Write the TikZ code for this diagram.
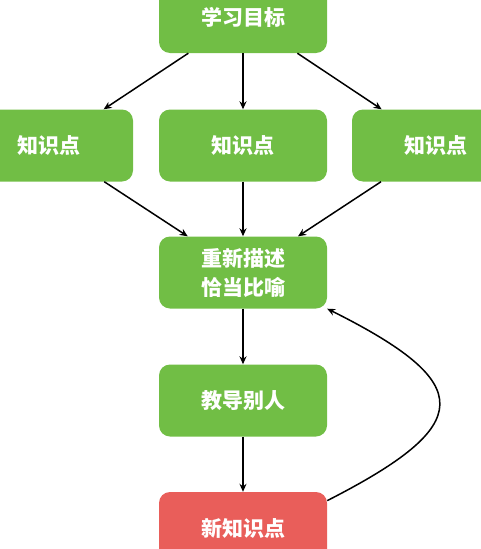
\documentclass[tikz,border=0pt]{standalone}
\usepackage{fontspec}
\setmainfont{Noto Sans CJK SC}
\usetikzlibrary{arrows.meta}
\definecolor{boxgreen}{RGB}{113,190,69}
\definecolor{boxred}{RGB}{233,94,90}
\tikzset{
  stepbox/.style={fill=boxgreen, rounded corners=11pt, minimum width=168pt, minimum height=72pt,
    text=white, font=\fontsize{21}{29}\selectfont\bfseries, align=center, inner sep=0pt},
  flow/.style={-{Stealth[length=8pt,width=7pt]}, line width=1.5pt, black}
}
\begin{document}
\begin{tikzpicture}[x=1pt,y=-1pt]
      \useasboundingbox (0,0) rectangle (481,549);
      \clip (0,0) rectangle (481,549);
      \node[stepbox] (goal) at (243,17) {学习目标};
      \node[stepbox] (kleft) at (49,145.5) {知识点};
      \node[stepbox] (kmid) at (243,145.5) {知识点};
      \node[stepbox] (kright) at (436,145.5) {知识点};
      \node[stepbox] (reword) at (243,272.5) {重新描述\\恰当比喻};
      \node[stepbox] (teach) at (243,400.5) {教导别人};
      \node[stepbox, fill=boxred] (newk) at (243,528) {新知识点};
      \draw [flow] (goal) -- (kleft); % goal--k1
      \draw [flow] (goal) -- (kmid); % goal--k2
      \draw [flow] (goal) -- (kright); % goal--k3
      \draw [flow] (kleft) -- (reword); % k1--reword
      \draw [flow] (kmid) -- (reword); % k2--reword
      \draw [flow] (kright) -- (reword); % k3--reword
      \draw [flow] (reword) -- (teach); % reword--teach
      \draw [flow] (teach) -- (newk); % teach--new
      \draw [flow] (newk.18) .. controls +(149,-76) and +(150,75) .. (reword.south east); % new--reword
    \end{tikzpicture}
\end{document}
